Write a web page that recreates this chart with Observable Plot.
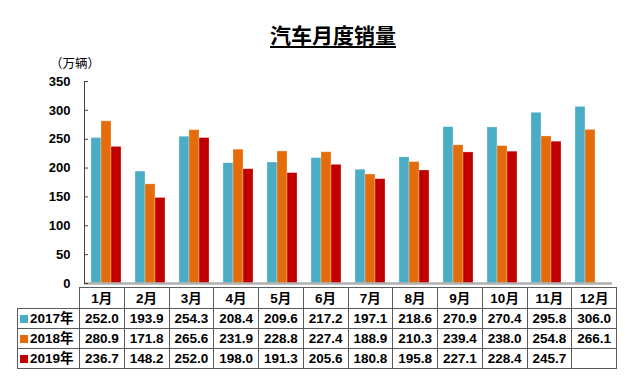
<!DOCTYPE html>
<html>
<head>
<meta charset="utf-8">
<script src="https://cdn.jsdelivr.net/npm/d3@7"></script>
<script src="https://cdn.jsdelivr.net/npm/@observablehq/plot@0.6"></script>
<style>
  html, body { margin: 0; padding: 0; background: #fff; }
  #wrap { position: relative; width: 640px; height: 384px; overflow: hidden; font-family: "Liberation Sans", Arial, "Noto Sans CJK SC", sans-serif; }
  #title { position: absolute; left: 0; width: 666px; top: 19px; text-align: center; font-family: "Noto Sans CJK SC", sans-serif; font-weight: bold; font-size: 21px; text-decoration: underline; text-underline-offset: 3px; color: #000; }
  #unit { position: absolute; left: 50px; top: 55px; font-family: "Noto Sans CJK SC", sans-serif; font-size: 12.5px; line-height: 15px; color: #000; }
  #chart { position: absolute; left: 0; top: 0; }
  #tbl { position: absolute; left: 17px; top: 287px; border-collapse: collapse; table-layout: fixed; font-family: "Liberation Sans", Arial, "Noto Sans CJK SC", sans-serif; font-weight: bold; font-size: 13.5px; color: #000; }
  #tbl td { border: 1px solid #5a5a5a; text-align: center; padding: 0; height: 19px; line-height: 19px; white-space: nowrap; }
  #tbl tr.hdr td { height: 20px; }
  #tbl td.blank { border: none; }
  #tbl td.leg { text-align: left; padding-left: 2px; }
  .sw { display: inline-block; width: 8px; height: 8px; margin-right: 2px; vertical-align: 0px; }
</style>
</head>
<body>
<div id="wrap">
  <div id="chart"></div>
  <div id="title">汽车月度销量</div>
  <div id="unit">（万辆）</div>
</div>
<script>
const months = ["1月","2月","3月","4月","5月","6月","7月","8月","9月","10月","11月","12月"];
const years = ["2017年","2018年","2019年"];
const colors = ["#4bacc6","#e46c0a","#c00000"];
const v2017 = [252.0,193.9,254.3,208.4,209.6,217.2,197.1,218.6,270.9,270.4,295.8,306.0];
const v2018 = [280.9,171.8,265.6,231.9,228.8,227.4,188.9,210.3,239.4,238.0,254.8,266.1];
const v2019 = [236.7,148.2,252.0,198.0,191.3,205.6,180.8,195.8,227.1,228.4,245.7,null];
const yTicks = [0,50,100,150,200,250,300,350];

const series = [v2017, v2018, v2019];
const rows = [];
months.forEach((m, i) => {
  years.forEach((y, j) => {
    const v = series[j][i];
    if (v != null) rows.push({month: m, year: y, value: v});
  });
});

const chart = Plot.plot({
  width: 640,
  height: 290,
  marginLeft: 79,
  marginRight: 24,
  marginTop: 81,
  marginBottom: 7,
  style: {fontFamily: "'Liberation Sans', Arial, sans-serif", background: "transparent"},
  fx: {domain: months, padding: 0, axis: null, label: null},
  x: {domain: years, axis: null, paddingInner: 0.03, paddingOuter: 0.69},
  y: {domain: [0, 350], label: null},
  color: {domain: years, range: colors},
  marks: [
    Plot.barY(rows, {fx: "month", x: "year", y: "value", fill: "year", stroke: "white", strokeOpacity: 0.35, strokeWidth: 0.8}),
    Plot.ruleY([0], {stroke: "#b0b0b0", strokeWidth: 2.5}),
    Plot.frame({anchor: "left", facetAnchor: "left", stroke: "#444", strokeWidth: 1}),
    Plot.axisY(yTicks, {anchor: "left", tickSize: -4, tickPadding: 18, fontSize: 13, fontWeight: "bold", fill: "#000", stroke: "#444", label: null})
  ]
});
document.getElementById("chart").appendChild(chart);

// data table below the chart
const tbl = document.createElement("table");
tbl.id = "tbl";
const cg = document.createElement("colgroup");
const c0 = document.createElement("col"); c0.style.width = "62px"; cg.appendChild(c0);
months.forEach(() => { const c = document.createElement("col"); c.style.width = "44.75px"; cg.appendChild(c); });
tbl.appendChild(cg);
const hdr = document.createElement("tr"); hdr.className = "hdr";
const blank = document.createElement("td"); blank.className = "blank"; hdr.appendChild(blank);
months.forEach(m => { const td = document.createElement("td"); td.textContent = m; hdr.appendChild(td); });
tbl.appendChild(hdr);
years.forEach((y, j) => {
  const tr = document.createElement("tr");
  const td0 = document.createElement("td"); td0.className = "leg";
  const sw = document.createElement("span"); sw.className = "sw"; sw.style.background = colors[j];
  td0.appendChild(sw); td0.appendChild(document.createTextNode(y));
  tr.appendChild(td0);
  series[j].forEach(v => { const td = document.createElement("td"); td.textContent = v == null ? "" : v.toFixed(1); tr.appendChild(td); });
  tbl.appendChild(tr);
});
document.getElementById("wrap").appendChild(tbl);
</script>
</body>
</html>
